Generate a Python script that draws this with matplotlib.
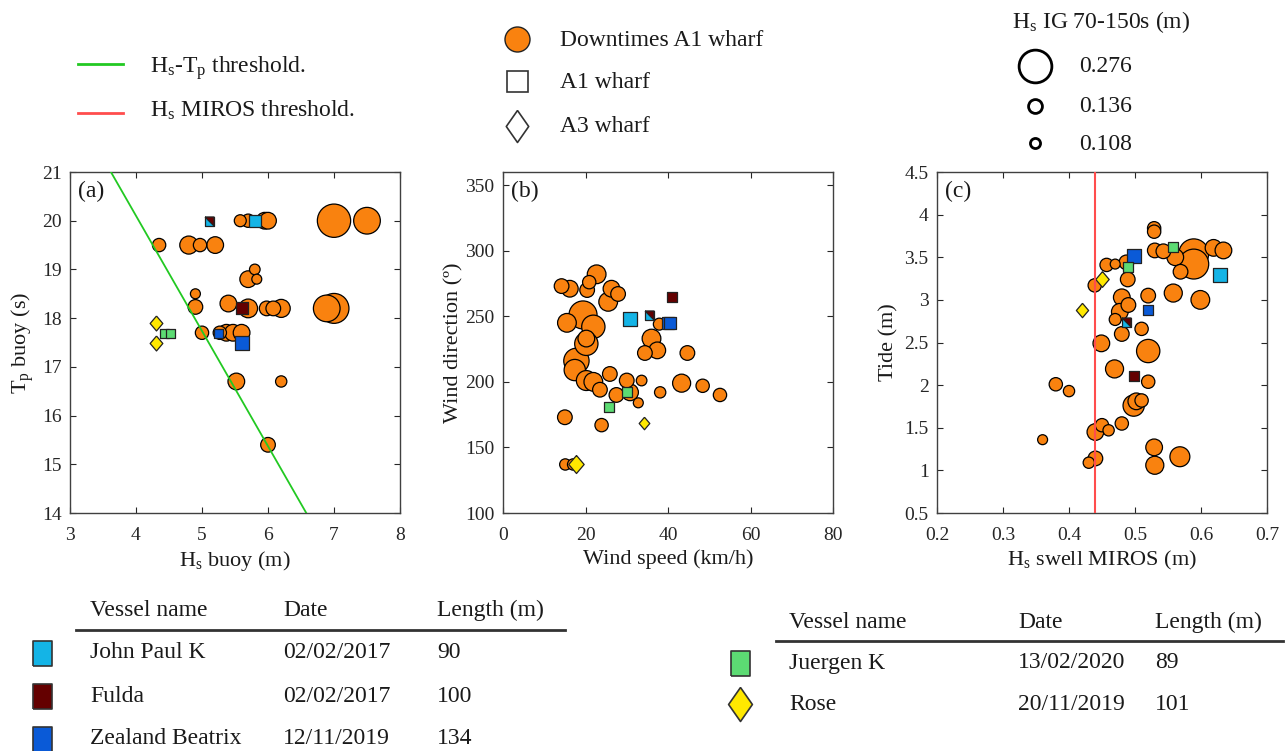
import matplotlib.pyplot as plt
import numpy as np

plt.rcParams['font.family'] = ['Liberation Serif', 'DejaVu Serif']
plt.rcParams['mathtext.fontset'] = 'custom'
plt.rcParams['mathtext.rm'] = 'Liberation Serif'
plt.rcParams['mathtext.it'] = 'Liberation Serif:italic'
plt.rcParams['mathtext.bf'] = 'Liberation Serif:bold'

W, H, DPI = 1287, 751, 100
PX = 72.0 / DPI  # points per pixel

ORANGE = '#F9820F'
GREEN = '#22C922'
RED = '#FF4D4D'
TXT = '#1a1a1a'

# (a) downtimes: Hs buoy (m), Tp buoy (s), Hs IG 70-150s (m)
hs_a = [4.35, 4.80, 4.97, 5.20, 5.58, 5.70, 5.95, 6.00, 7.00, 7.50,
        5.80, 5.70, 5.83, 4.90, 4.90, 5.40, 5.70, 5.98, 6.08, 6.20,
        6.89, 7.00, 5.00, 5.27, 5.37, 5.47, 5.60, 5.52, 6.20, 6.00]
tp_a = [19.5, 19.5, 19.5, 19.5, 20.0, 20.0, 20.0, 20.0, 20.0, 20.0,
        19.0, 18.8, 18.8, 18.5, 18.23, 18.3, 18.2, 18.2, 18.2, 18.2,
        18.2, 18.2, 17.7, 17.7, 17.7, 17.7, 17.7, 16.7, 16.7, 15.4]
ig_a = [0.132, 0.167, 0.132, 0.157, 0.122, 0.132, 0.157, 0.157, 0.280, 0.231,
        0.112, 0.157, 0.107, 0.107, 0.142, 0.157, 0.172, 0.142, 0.142, 0.167,
        0.231, 0.255, 0.132, 0.132, 0.157, 0.157, 0.157, 0.157, 0.117, 0.142]

# Hs-Tp threshold line
hs_thr = [3.62, 6.58]
tp_thr = [21.0, 14.0]

# (b) downtimes: wind speed (km/h), wind direction (deg), Hs IG (m)
ws_b = [14.2, 16.2, 20.4, 20.9, 22.7, 26.3, 27.9, 25.5, 19.4, 15.5,
        21.9, 20.2, 20.2, 17.8, 17.4, 20.2, 21.9, 23.5, 25.9, 27.5,
        30.0, 30.8, 33.6, 32.8, 36.0, 34.4, 37.4, 37.9, 38.1, 44.7,
        43.3, 48.4, 52.6, 15.0, 23.9, 15.1, 17.0]
wd_b = [273, 271, 270, 276, 282, 271, 267, 261, 251, 245,
        242, 233, 229, 216, 209, 201, 200, 194, 206, 190,
        201, 192, 201, 184, 233, 222, 224, 244, 192, 222,
        199, 197, 190, 173, 167, 137, 137]
ig_b = [0.142, 0.157, 0.142, 0.132, 0.172, 0.157, 0.142, 0.172, 0.241, 0.172,
        0.206, 0.157, 0.206, 0.221, 0.191, 0.181, 0.172, 0.142, 0.142, 0.142,
        0.142, 0.157, 0.112, 0.107, 0.172, 0.142, 0.157, 0.122, 0.117, 0.142,
        0.167, 0.132, 0.132, 0.142, 0.132, 0.117, 0.117]

# (c) downtimes: Hs swell MIROS (m), tide (m), Hs IG (m)
hsw_c = [0.529, 0.529, 0.530, 0.543, 0.589, 0.589, 0.561, 0.569, 0.619, 0.634,
         0.457, 0.470, 0.487, 0.439, 0.489, 0.480, 0.490, 0.477, 0.470, 0.480,
         0.510, 0.520, 0.558, 0.599, 0.449, 0.520, 0.469, 0.520, 0.380, 0.400,
         0.498, 0.502, 0.510, 0.480, 0.450, 0.460, 0.440, 0.360, 0.529, 0.530,
         0.568, 0.430, 0.440]
tide_c = [3.84, 3.80, 3.58, 3.57, 3.54, 3.42, 3.50, 3.33, 3.61, 3.58,
          3.41, 3.42, 3.44, 3.17, 3.24, 3.03, 2.94, 2.86, 2.77, 2.60,
          2.66, 3.05, 3.08, 3.00, 2.49, 2.40, 2.19, 2.04, 2.01, 1.93,
          1.76, 1.81, 1.82, 1.55, 1.53, 1.47, 1.45, 1.36, 1.27, 1.06,
          1.16, 1.09, 1.14]
ig_c = [0.132, 0.132, 0.142, 0.142, 0.255, 0.255, 0.157, 0.142, 0.157, 0.157,
        0.132, 0.107, 0.142, 0.132, 0.142, 0.157, 0.142, 0.157, 0.122, 0.142,
        0.132, 0.142, 0.167, 0.172, 0.157, 0.206, 0.167, 0.132, 0.132, 0.117,
        0.191, 0.157, 0.132, 0.132, 0.132, 0.117, 0.157, 0.107, 0.157, 0.167,
        0.181, 0.117, 0.142]

# MIROS swell threshold
hs_miros_thr = 0.44

# vessels
vessel_names = ['John Paul K', 'Fulda', 'Zealand Beatrix', 'Juergen K', 'Rose']
vessel_dates = ['02/02/2017', '02/02/2017', '12/11/2019', '13/02/2020', '20/11/2019']
vessel_lengths = [90, 100, 134, 89, 101]
vessel_wharf = ['A1', 'A1', 'A1', 'A1', 'A3']
vessel_colors = ['#14B4E6', '#640000', '#0A5AD7', '#5CDB73', '#FFE800']

vx_a = [[5.10, 5.80], [5.10, 5.60], [5.25, 5.60], [4.43, 4.52], [4.30, 4.30]]
vy_a = [[20.0, 20.0], [20.0, 18.2], [17.7, 17.5], [17.7, 17.7], [17.9, 17.5]]
vig_a = [[0.10, 0.125], [0.10, 0.12], [0.10, 0.13], [0.10, 0.10], [0.144, 0.144]]

vx_b = [[30.9, 35.5], [35.5, 41.0], [40.1, 40.6], [25.7, 30.1], [17.8, 34.2]]
vy_b = [[247.6, 251.0], [251.0, 265.0], [245.0, 245.0], [181.0, 192.0], [137.0, 169.0]]
vig_b = [[0.13, 0.10], [0.10, 0.11], [0.12, 0.12], [0.11, 0.11], [0.167, 0.126]]

vx_c = [[0.629, 0.487], [0.487, 0.499], [0.499, 0.519], [0.489, 0.558], [0.450, 0.420]]
vy_c = [[3.29, 2.74], [2.74, 2.11], [3.52, 2.88], [3.38, 3.62], [3.24, 2.88]]
vig_c = [[0.13, 0.10], [0.10, 0.11], [0.13, 0.11], [0.11, 0.11], [0.15, 0.14]]

ig_legend = [0.276, 0.136, 0.108]

DIAMOND = [(0, 1), (0.85, 0), (0, -1), (-0.85, 0), (0, 1)]
HALF = [(-1, 1), (1, 1), (1, -1), (-1, 1)]
TALL_BOX = [(-0.38, -0.5), (0.38, -0.5), (0.38, 0.5), (-0.38, 0.5), (-0.38, -0.5)]
LEG_DIAMOND = [(0, 1), (0.7, 0), (0, -1), (-0.7, 0), (0, 1)]


def ig_diam(h):
    # marker diameter (points) for a given IG wave height
    return (135.0 * np.asarray(h, dtype=float) - 4.5) * PX


def style(ax):
    ax.tick_params(direction='in', top=True, right=True, length=4, width=0.8,
                   labelsize=14, colors='#262626')
    ax.tick_params(axis='x', pad=10)
    ax.tick_params(axis='y', pad=6)
    for s in ax.spines.values():
        s.set_color('#404040')
        s.set_linewidth(1.0)


def draw_events(ax, x, y, ig):
    x, y, ig = np.asarray(x), np.asarray(y), np.asarray(ig)
    order = np.argsort(-ig, kind='stable')
    ax.scatter(x[order], y[order], s=ig_diam(ig[order]) ** 2, c=ORANGE,
               edgecolors='black', linewidths=0.9, zorder=2)


def draw_vessels(ax, vx, vy, vig):
    shared = set(zip(vx[0], vy[0]))
    for k in range(len(vessel_names)):
        for j in range(len(vx[k])):
            mk = 's' if vessel_wharf[k] == 'A1' else DIAMOND
            if vessel_names[k] == 'Fulda' and (vx[k][j], vy[k][j]) in shared:
                mk = HALF
            ax.scatter([vx[k][j]], [vy[k][j]], s=ig_diam(vig[k][j]) ** 2, marker=mk,
                       c=vessel_colors[k], edgecolors='#222222', linewidths=0.9, zorder=3)


def add_axes_px(l, t, r, b):
    return fig.add_axes([l / W, 1 - b / H, (r - l) / W, (b - t) / H])


fig = plt.figure(figsize=(W / DPI, H / DPI), dpi=DPI)

# panel (a)
ax1 = add_axes_px(70, 172, 400, 513)
draw_events(ax1, hs_a, tp_a, ig_a)
draw_vessels(ax1, vx_a, vy_a, vig_a)
ax1.plot(hs_thr, tp_thr, color=GREEN, lw=1.3, zorder=4)
ax1.set_xlim(3, 8)
ax1.set_ylim(14, 21)
ax1.set_xticks(np.arange(3, 9, 1))
ax1.set_yticks(np.arange(14, 22, 1))
ax1.set_xlabel(r'H$_\mathrm{s}$ buoy (m)', fontsize=16, color=TXT, labelpad=4)
ax1.set_ylabel(r'T$_\mathrm{p}$ buoy (s)', fontsize=16, color=TXT, labelpad=4)
ax1.text(0.025, 0.975, '(a)', transform=ax1.transAxes, fontsize=17, va='top', color=TXT)
style(ax1)

# panel (b)
ax2 = add_axes_px(503, 172, 833, 513)
draw_events(ax2, ws_b, wd_b, ig_b)
draw_vessels(ax2, vx_b, vy_b, vig_b)
ax2.set_xlim(0, 80)
ax2.set_ylim(100, 360)
ax2.set_xticks(np.arange(0, 81, 20))
ax2.set_yticks(np.arange(100, 351, 50))
ax2.set_xlabel('Wind speed (km/h)', fontsize=16, color=TXT, labelpad=4)
ax2.set_ylabel('Wind direction (º)', fontsize=16, color=TXT, labelpad=1)
ax2.text(0.025, 0.975, '(b)', transform=ax2.transAxes, fontsize=17, va='top', color=TXT)
style(ax2)

# panel (c)
ax3 = add_axes_px(937, 172, 1267, 513)
draw_events(ax3, hsw_c, tide_c, ig_c)
draw_vessels(ax3, vx_c, vy_c, vig_c)
ax3.axvline(hs_miros_thr, color=RED, lw=1.5, zorder=4)
ax3.set_xlim(0.2, 0.7)
ax3.set_ylim(0.5, 4.5)
ax3.set_xticks(np.round(np.arange(0.2, 0.71, 0.1), 1))
ax3.set_yticks(np.arange(0.5, 4.51, 0.5))
ax3.set_xticklabels(['0.2', '0.3', '0.4', '0.5', '0.6', '0.7'])
ax3.set_yticklabels(['0.5', '1', '1.5', '2', '2.5', '3', '3.5', '4', '4.5'])
ax3.set_xlabel(r'H$_\mathrm{s}$ swell MIROS (m)', fontsize=16, color=TXT, labelpad=4)
ax3.set_ylabel('Tide (m)', fontsize=16, color=TXT, labelpad=4)
ax3.text(0.025, 0.975, '(c)', transform=ax3.transAxes, fontsize=17, va='top', color=TXT)
style(ax3)

# overlay in pixel coordinates for legends and vessel tables
ov = fig.add_axes([0, 0, 1, 1], zorder=-1)
ov.set_xlim(0, W)
ov.set_ylim(H, 0)
ov.axis('off')
FS = 17

# threshold legend
ov.plot([78, 123], [64, 64], color=GREEN, lw=2)
ov.plot([78, 123], [113, 113], color=RED, lw=2)
ov.text(150, 68, r'H$_\mathrm{s}$-T$_\mathrm{p}$ threshold.', fontsize=FS, va='center', color=TXT)
ov.text(150, 110, r'H$_\mathrm{s}$ MIROS threshold.', fontsize=FS, va='center', color=TXT)

# marker legend
ov.plot(517, 39, 'o', ms=25 * PX, mfc=ORANGE, mec='#222222', mew=1.0)
ov.plot(517, 81, 's', ms=21 * PX, mfc='white', mec='#333333', mew=1.2)
ov.plot(517, 126, marker=LEG_DIAMOND, ms=32 * PX, mfc='white', mec='#333333', mew=1.2)
ov.text(560, 40, 'Downtimes A1 wharf', fontsize=FS, va='center', color=TXT)
ov.text(560, 82, 'A1 wharf', fontsize=FS, va='center', color=TXT)
ov.text(560, 126, 'A3 wharf', fontsize=FS, va='center', color=TXT)

# IG size legend
ov.text(1012, 22, r'H$_\mathrm{s}$ IG 70-150s (m)', fontsize=FS, va='center', color=TXT)
for yy, hv in zip([66, 106, 143], ig_legend):
    ov.plot(1035, yy, 'o', ms=ig_diam(hv), mfc='white', mec='black', mew=2.0)
    ov.text(1079, yy + 1, f'{hv:.3f}', fontsize=FS, va='center', color=TXT)


def vessel_table(rows, x_mark, cols, y_head, y_line, x_line, y_rows):
    ov.text(cols[0], y_head, 'Vessel name', fontsize=FS, va='center', color=TXT)
    ov.text(cols[1], y_head, 'Date', fontsize=FS, va='center', color=TXT)
    ov.text(cols[2], y_head, 'Length (m)', fontsize=FS, va='center', color=TXT)
    ov.plot(x_line, [y_line, y_line], color='#333333', lw=2)
    for k, yy in zip(rows, y_rows):
        if vessel_wharf[k] == 'A1':
            ov.plot(x_mark, yy, marker=TALL_BOX, ms=25 * PX, mfc=vessel_colors[k],
                    mec='#333333', mew=1.2)
        else:
            ov.plot(x_mark, yy, marker=LEG_DIAMOND, ms=34 * PX, mfc=vessel_colors[k],
                    mec='#333333', mew=1.2)
        ov.text(cols[0], yy, vessel_names[k], fontsize=FS, va='center', color=TXT)
        ov.text(cols[1], yy, vessel_dates[k], fontsize=FS, va='center', color=TXT)
        ov.text(cols[2], yy, str(vessel_lengths[k]), fontsize=FS, va='center', color=TXT)


vessel_table([0, 1, 2], 42, [90, 283, 437], 610, 630, [76, 565], [653, 696, 739])
vessel_table([3, 4], 740, [789, 1018, 1155], 622, 641, [776, 1283], [663, 704])

fig.savefig('out.png', dpi=DPI)
